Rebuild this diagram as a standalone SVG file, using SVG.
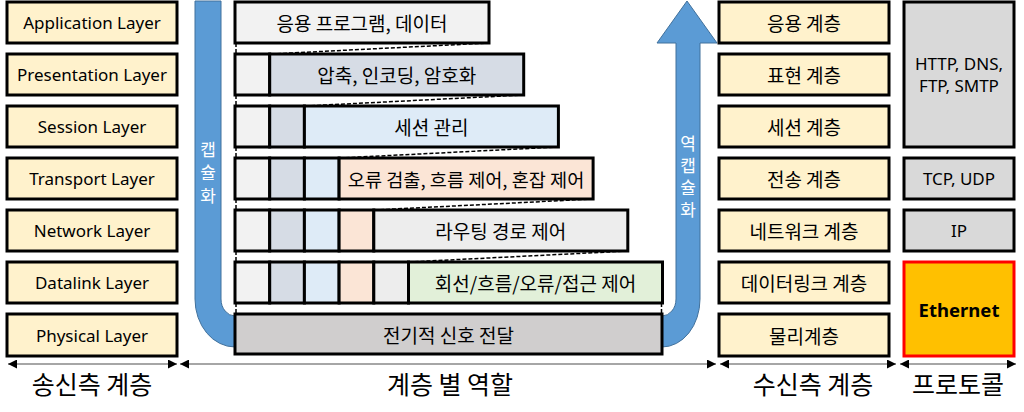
<svg xmlns="http://www.w3.org/2000/svg" width="1024" height="412" viewBox="0 0 1024 412">
<style>
.box{stroke:#000;stroke-width:3}
.lay{fill:#FFF2CC}
.t{font-family:"Noto Sans","Noto Sans CJK KR",sans-serif;font-size:17px;fill:#000;text-anchor:middle;dominant-baseline:central}
.k{font-family:"Noto Sans CJK KR","Noto Sans",sans-serif;font-size:19px;fill:#000;text-anchor:middle;dominant-baseline:central}
.w{font-family:"Noto Sans CJK KR",sans-serif;font-size:17px;fill:#fff;text-anchor:middle;writing-mode:vertical-rl;text-orientation:upright}
.b{font-family:"Noto Sans CJK KR","Noto Sans",sans-serif;font-size:25px;fill:#000;text-anchor:middle;dominant-baseline:central}
.dash{stroke:#000;stroke-width:1.5;stroke-dasharray:4 2;fill:none}
.c0{fill:#F2F2F2}.c1{fill:#D6DCE5}.c2{fill:#DEEBF7}.c3{fill:#FBE5D6}.c4{fill:#EDEDED}.c5{fill:#E2F0D9}.c6{fill:#D0CECE}
.gray{fill:#D9D9D9}
.arr{fill:#5B9BD5;stroke:#41719C;stroke-width:1}
.dim{stroke:#A6A6A6;stroke-width:2;fill:none;marker-start:url(#ah);marker-end:url(#ah)}
</style>
<defs>
<marker id="ah" viewBox="0 0 10 10" refX="10" refY="5" markerWidth="9" markerHeight="9" markerUnits="userSpaceOnUse" orient="auto-start-reverse">
<path d="M0,0 L10,5 L0,10 Z" fill="#000"/>
</marker>
</defs>

<g id="arrow-encap">
<path class="arr" d="M195,1 H221 V299 A14,17 0 0 0 235,316 V347 A40,48 0 0 1 195,299 Z"/>
<text class="w" x="208" y="176" letter-spacing="6">캡슐화</text>
</g>
<g id="arrow-decap">
<path class="arr" d="M687,1 L717,43 H700 V299 A38,48 0 0 1 662,347 V316 A14,17 0 0 0 676,299 V43 H657 Z"/>
<text class="w" x="688" y="179" letter-spacing="5">역캡슐화</text>
</g>

<g id="sender">
<g id="s-app"><rect class="box lay" x="7" y="2" width="170" height="41"/><text class="t" x="92" y="22.5">Application Layer</text></g>
<g id="s-pre"><rect class="box lay" x="7" y="54" width="170" height="41"/><text class="t" x="92" y="74.5">Presentation Layer</text></g>
<g id="s-ses"><rect class="box lay" x="7" y="106" width="170" height="41"/><text class="t" x="92" y="126.5">Session Layer</text></g>
<g id="s-tra"><rect class="box lay" x="7" y="158" width="170" height="41"/><text class="t" x="92" y="178.5">Transport Layer</text></g>
<g id="s-net"><rect class="box lay" x="7" y="210" width="170" height="41"/><text class="t" x="92" y="230.5">Network Layer</text></g>
<g id="s-dat"><rect class="box lay" x="7" y="262" width="170" height="41"/><text class="t" x="92" y="282.5">Datalink Layer</text></g>
<g id="s-phy"><rect class="box lay" x="7" y="314" width="170" height="42"/><text class="t" x="92" y="335">Physical Layer</text></g>
</g>

<g id="connectors">
<line class="dash" x1="236" y1="43" x2="236" y2="54"/>
<line class="dash" x1="271" y1="54" x2="489" y2="43"/>
<line class="dash" x1="236" y1="95" x2="236" y2="106"/>
<line class="dash" x1="305" y1="106" x2="523.7" y2="95"/>
<line class="dash" x1="236" y1="147" x2="236" y2="158"/>
<line class="dash" x1="339.5" y1="158" x2="558.4" y2="147"/>
<line class="dash" x1="236" y1="199" x2="236" y2="210"/>
<line class="dash" x1="374" y1="210" x2="593.1" y2="199"/>
<line class="dash" x1="236" y1="251" x2="236" y2="262"/>
<line class="dash" x1="408.5" y1="262" x2="627.8" y2="251"/>
<line class="dash" x1="236" y1="303" x2="236" y2="314"/>
<line class="dash" x1="661.5" y1="303" x2="661.5" y2="314"/>
<line class="dim" x1="8" y1="364" x2="177" y2="364"/>
<line class="dim" x1="180" y1="364" x2="716" y2="364"/>
<line class="dim" x1="720" y1="364" x2="896" y2="364"/>
<line class="dim" x1="900" y1="364" x2="1016" y2="364"/>
</g>

<g id="role-app">
<rect class="box c0" x="235" y="2" width="254" height="41"/>
<text class="k" x="362" y="22.5">응용 프로그램, 데이터</text>
</g>
<g id="role-pre">
<rect class="box c0" x="235" y="54" width="34.7" height="41"/>
<rect class="box c1" x="269.7" y="54" width="254" height="41"/>
<text class="k" x="396.7" y="74.5">압축, 인코딩, 암호화</text>
</g>
<g id="role-ses">
<rect class="box c0" x="235" y="106" width="34.7" height="41"/>
<rect class="box c1" x="269.7" y="106" width="34.7" height="41"/>
<rect class="box c2" x="304.4" y="106" width="254" height="41"/>
<text class="k" x="431.4" y="126.5">세션 관리</text>
</g>
<g id="role-tra">
<rect class="box c0" x="235" y="158" width="34.7" height="41"/>
<rect class="box c1" x="269.7" y="158" width="34.7" height="41"/>
<rect class="box c2" x="304.4" y="158" width="34.7" height="41"/>
<rect class="box c3" x="339.1" y="158" width="254" height="41"/>
<text class="k" x="466.1" y="178.5" style="font-size:18.6px">오류 검출, 흐름 제어, 혼잡 제어</text>
</g>
<g id="role-net">
<rect class="box c0" x="235" y="210" width="34.7" height="41"/>
<rect class="box c1" x="269.7" y="210" width="34.7" height="41"/>
<rect class="box c2" x="304.4" y="210" width="34.7" height="41"/>
<rect class="box c3" x="339.1" y="210" width="34.7" height="41"/>
<rect class="box c4" x="373.8" y="210" width="254" height="41"/>
<text class="k" x="500.8" y="230.5">라우팅 경로 제어</text>
</g>
<g id="role-dat">
<rect class="box c0" x="235" y="262" width="34.7" height="41"/>
<rect class="box c1" x="269.7" y="262" width="34.7" height="41"/>
<rect class="box c2" x="304.4" y="262" width="34.7" height="41"/>
<rect class="box c3" x="339.1" y="262" width="34.7" height="41"/>
<rect class="box c4" x="373.8" y="262" width="34.7" height="41"/>
<rect class="box c5" x="408.5" y="262" width="254" height="41"/>
<text class="k" x="535.5" y="282.5">회선/흐름/오류/접근 제어</text>
</g>
<g id="role-phy">
<rect class="box c6" x="235" y="314" width="427" height="40"/>
<text class="k" x="448.5" y="334">전기적 신호 전달</text>
</g>

<g id="receiver">
<g id="r-app"><rect class="box lay" x="719" y="2" width="170" height="41"/><text class="k" x="804" y="22.5">응용 계층</text></g>
<g id="r-pre"><rect class="box lay" x="719" y="54" width="170" height="41"/><text class="k" x="804" y="74.5">표현 계층</text></g>
<g id="r-ses"><rect class="box lay" x="719" y="106" width="170" height="41"/><text class="k" x="804" y="126.5">세션 계층</text></g>
<g id="r-tra"><rect class="box lay" x="719" y="158" width="170" height="41"/><text class="k" x="804" y="178.5">전송 계층</text></g>
<g id="r-net"><rect class="box lay" x="719" y="210" width="170" height="41"/><text class="k" x="804" y="230.5">네트워크 계층</text></g>
<g id="r-dat"><rect class="box lay" x="719" y="262" width="170" height="41"/><text class="k" x="804" y="282.5">데이터링크 계층</text></g>
<g id="r-phy"><rect class="box lay" x="719" y="314" width="170" height="42"/><text class="k" x="804" y="335">물리계층</text></g>
</g>

<g id="protocols">
<g id="p-http"><rect class="box gray" x="904" y="2" width="110" height="145"/>
<text class="t" x="959" y="63.5">HTTP, DNS,</text><text class="t" x="959" y="85.5">FTP, SMTP</text></g>
<g id="p-tcp"><rect class="box gray" x="904" y="158" width="110" height="41"/><text class="t" x="959" y="178.5">TCP, UDP</text></g>
<g id="p-ip"><rect class="box gray" x="904" y="210" width="110" height="41"/><text class="t" x="959" y="230.5">IP</text></g>
<g id="p-eth"><rect x="904" y="262" width="110" height="94" fill="#FFC000" stroke="#FF0000" stroke-width="3"/>
<text class="t" x="959" y="309" font-weight="bold" style="font-size:18.5px">Ethernet</text></g>
</g>

<g id="labels">
<text class="b" x="92" y="383">송신측 계층</text>
<text class="b" x="450" y="383">계층 별 역할</text>
<text class="b" x="813" y="383">수신측 계층</text>
<text class="b" x="958" y="383">프로토콜</text>
</g>
</svg>
